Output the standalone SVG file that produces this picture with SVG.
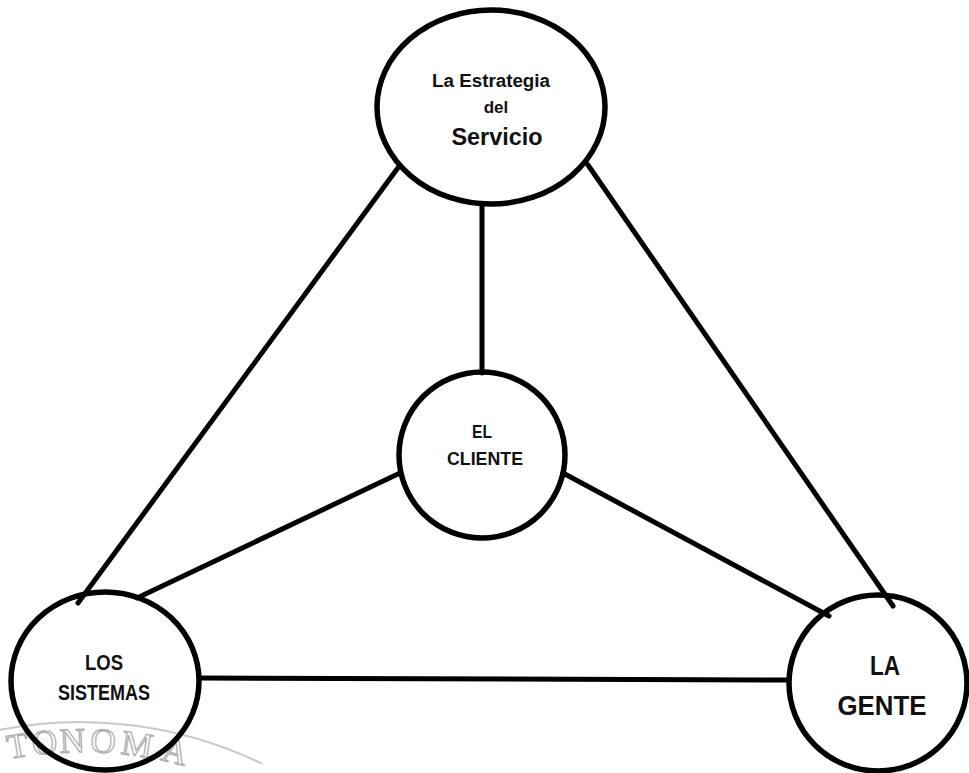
<svg xmlns="http://www.w3.org/2000/svg" width="969" height="773" viewBox="0 0 969 773">
<style>
.node{fill:none;stroke:#000;stroke-width:5.5}
.lbl{font-family:"Liberation Sans",Arial,sans-serif;font-weight:700;fill:#111;text-anchor:middle}
.conn{stroke:#000;stroke-width:5;stroke-linecap:round;fill:none}
.seal{fill:none;stroke:#c8c8c8;stroke-width:2}
.sealtxt{font-family:"Liberation Serif","Times New Roman",serif;font-size:35px;fill:#fff;stroke:#b0b0b0;stroke-width:1.3}
</style>
<rect width="969" height="773" fill="#fff"/>
<g id="watermark">
<path class="seal" d="M 0 729.7 A 418 418 0 0 1 262 763.7"/>
<text class="sealtxt" x="9 33 60 90 120 160" y="759 755.3 752.7 752.1 753.8 759.8" rotate="-9.4 -5.5 -1.5 3 8.2 13.8">TONOMA</text>
</g>
<g id="connectors">
<line class="conn" x1="482" y1="205" x2="482" y2="373"/>
<line class="conn" x1="400" y1="165" x2="78" y2="603"/>
<line class="conn" x1="588" y1="165" x2="893" y2="606"/>
<line class="conn" x1="400" y1="473" x2="137" y2="598"/>
<line class="conn" x1="563" y1="473" x2="829" y2="616"/>
<line class="conn" x1="200" y1="678" x2="789" y2="680"/>
</g>
<g id="estrategia">
<ellipse class="node" cx="491" cy="107" rx="114" ry="97"/>
<text class="lbl" x="491" y="87" font-size="18" textLength="118" lengthAdjust="spacingAndGlyphs">La Estrategia</text>
<text class="lbl" x="496" y="113" font-size="17">del</text>
<text class="lbl" x="497" y="145" font-size="24" textLength="91" lengthAdjust="spacingAndGlyphs">Servicio</text>
</g>
<g id="cliente">
<ellipse class="node" cx="482" cy="455" rx="83" ry="83"/>
<text class="lbl" x="482" y="438" font-size="19" textLength="20" lengthAdjust="spacingAndGlyphs">EL</text>
<text class="lbl" x="485" y="465" font-size="19" textLength="76" lengthAdjust="spacingAndGlyphs">CLIENTE</text>
</g>
<g id="sistemas">
<ellipse class="node" cx="105" cy="681" rx="94" ry="89"/>
<text class="lbl" x="104" y="670" font-size="22" textLength="38" lengthAdjust="spacingAndGlyphs">LOS</text>
<text class="lbl" x="104" y="700" font-size="22" textLength="92" lengthAdjust="spacingAndGlyphs">SISTEMAS</text>
</g>
<g id="gente">
<ellipse class="node" cx="878" cy="683" rx="89" ry="88"/>
<text class="lbl" x="885" y="675" font-size="28" textLength="30" lengthAdjust="spacingAndGlyphs">LA</text>
<text class="lbl" x="882" y="715" font-size="28" textLength="89" lengthAdjust="spacingAndGlyphs">GENTE</text>
</g>
</svg>
